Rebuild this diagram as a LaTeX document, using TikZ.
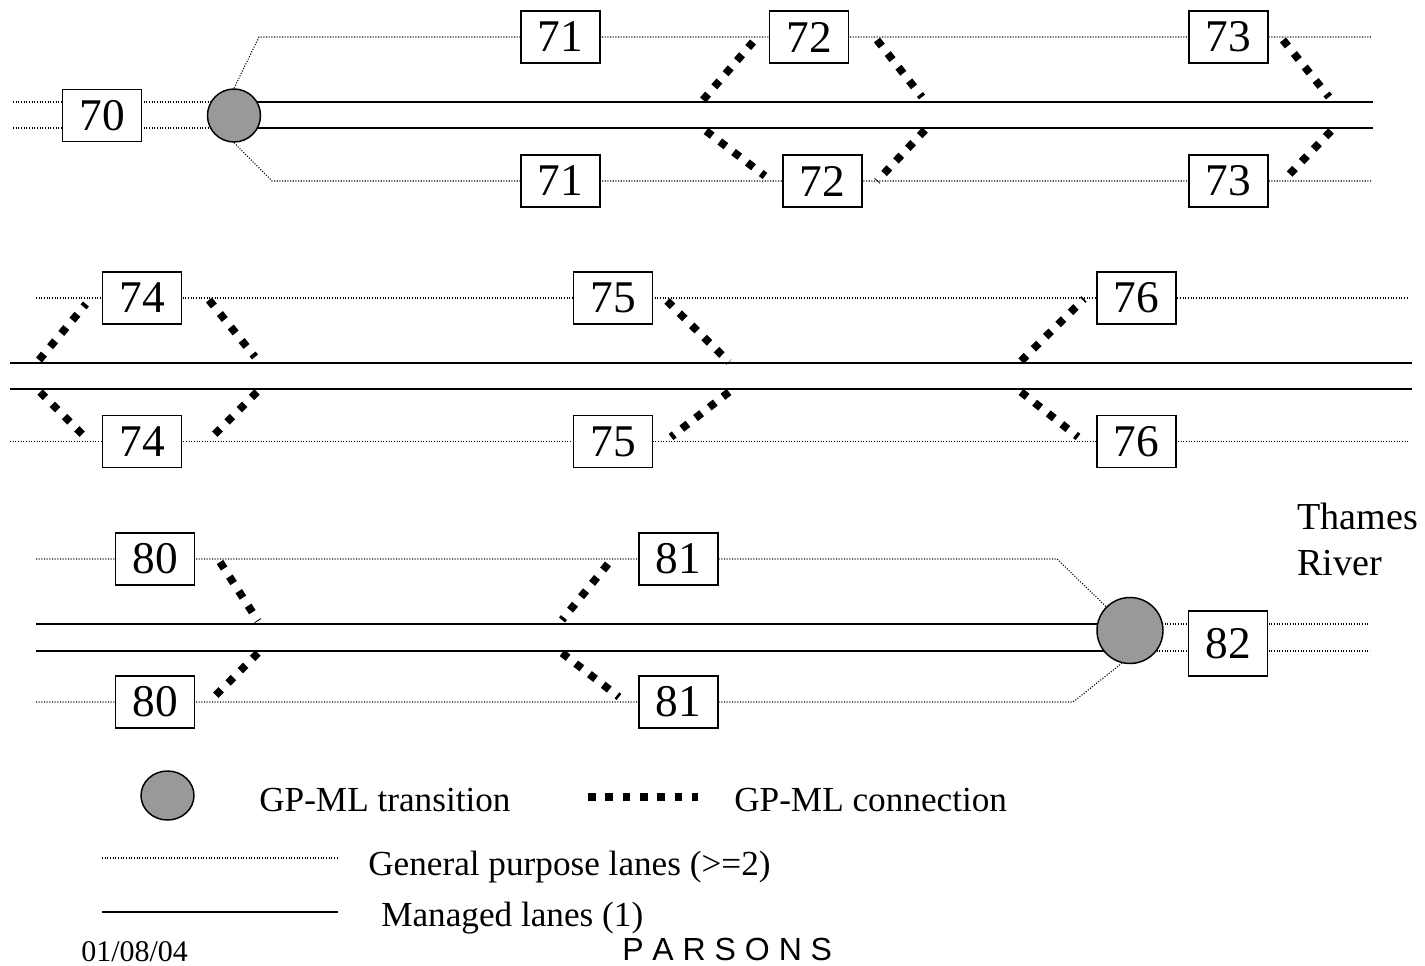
\documentclass[tikz,border=0pt]{standalone}
\usepackage{fontspec}
\setmainfont{Liberation Serif}
\newfontfamily\parsonsfont{Liberation Sans}
\usetikzlibrary{calc,shapes.geometric}
\definecolor{transgray}{HTML}{999999}
\pgfdeclarelayer{bg}
\pgfsetlayers{bg,main}
\begin{document}
\begin{tikzpicture}[x=0.75pt,y=-0.75pt,
  numbox/.style={draw, line width=1.1pt, fill=white, minimum width=59pt, minimum height=39pt, inner sep=0pt, font=\fontsize{34}{36}\selectfont},
  trans/.style={circle, draw, line width=1.1pt, fill=transgray, inner sep=0pt},
  gp/.style={line width=0.8pt, dash pattern=on 0.8pt off 1.2pt},
  ml/.style={line width=1.5pt},
  conn/.style={line width=5.8pt, dash pattern=on 5.8pt off 7.2pt},
  legtext/.style={anchor=base west, inner sep=0pt, font=\fontsize{26.4}{30}\selectfont}]
\useasboundingbox (0,0) rectangle (1425,966);

% ---------- Row 1 ----------
\node[numbox] (b70) at (102,115.5) {70};
\node[trans, minimum size=39.75pt] (c1) at (234,115.5) {};
\node[numbox] (b71t) at (560.5,37) {71};
\node[numbox] (b71b) at (560.5,181) {71};
\node[numbox] (b72t) at (809,37) {72};
\node[numbox] (b72b) at (822.5,181) {72};
\node[numbox] (b73t) at (1228.5,37) {73};
\node[numbox] (b73b) at (1228.5,181) {73};

\coordinate (r1lA) at (13,102);
\coordinate (r1lB) at (13,128);
\coordinate (r1mA) at (1373,102);
\coordinate (r1mB) at (1373,128);
\coordinate (r1tk) at (259,37);
\coordinate (r1bk) at (272,181);
\coordinate (r1tE) at (1371,37);
\coordinate (r1bE) at (1371,181);

\begin{pgfonlayer}{bg}
  \draw[gp] (r1lA) -- (c1.center |- r1lA);
  \draw[gp] (r1lB) -- (c1.center |- r1lB);
  \draw[ml] (c1.center |- r1mA) -- (r1mA);
  \draw[ml] (c1.center |- r1mB) -- (r1mB);
  \draw[gp] (c1.north) -- (r1tk) -- (r1tE);
  \draw[gp] (c1.south) -- (r1bk) -- (r1bE);
\end{pgfonlayer}

\coordinate (k72a1) at (703,100);  \coordinate (k72a2) at (753,42);
\coordinate (k72b1) at (877,40);   \coordinate (k72b2) at (922,97);
\coordinate (k72c1) at (706,131);  \coordinate (k72c2) at (765,176);
\coordinate (k72d1) at (925,130);  \coordinate (k72d2) at (877,181);
\coordinate (k73a1) at (1283,40);  \coordinate (k73a2) at (1329,97);
\coordinate (k73b1) at (1331,131); \coordinate (k73b2) at (1283,181);
\draw[conn] (k72a1) -- (k72a2);
\draw[conn] (k72b1) -- (k72b2);
\draw[conn] (k72c1) -- (k72c2);
\draw[conn] (k72d1) -- (k72d2);
\draw[conn] (k73a1) -- (k73a2);
\draw[conn] (k73b1) -- (k73b2);

% ---------- Row 2 ----------
\node[numbox] (b74t) at (142,298) {74};
\node[numbox] (b74b) at (142,441.5) {74};
\node[numbox] (b75t) at (613,298) {75};
\node[numbox] (b75b) at (613,441.5) {75};
\node[numbox] (b76t) at (1136.5,298) {76};
\node[numbox] (b76b) at (1136.5,441.5) {76};

\coordinate (r2tS) at (36,298);   \coordinate (r2tE) at (1409,298);
\coordinate (r2bS) at (10,441.5); \coordinate (r2bE) at (1409,441.5);
\coordinate (r2mAS) at (10,363); \coordinate (r2mAE) at (1412,363);
\coordinate (r2mBS) at (10,389); \coordinate (r2mBE) at (1412,389);
\begin{pgfonlayer}{bg}
  \draw[gp] (r2tS) -- (r2tE);
  \draw[gp] (r2bS) -- (r2bE);
  \draw[ml] (r2mAS) -- (r2mAE);
  \draw[ml] (r2mBS) -- (r2mBE);
\end{pgfonlayer}

\coordinate (k74a1) at (39,360);   \coordinate (k74a2) at (86,304);
\coordinate (k74b1) at (209,300);  \coordinate (k74b2) at (255,357);
\coordinate (k74c1) at (40,392);   \coordinate (k74c2) at (88,440);
\coordinate (k74d1) at (257,392);  \coordinate (k74d2) at (209,440);
\coordinate (k75a1) at (667,301);  \coordinate (k75a2) at (729,362);
\coordinate (k75b1) at (729,392);  \coordinate (k75b2) at (671,437);
\coordinate (k76a1) at (1021,361); \coordinate (k76a2) at (1084,299);
\coordinate (k76b1) at (1021,392); \coordinate (k76b2) at (1078,437);
\draw[conn] (k74a1) -- (k74a2);
\draw[conn] (k74b1) -- (k74b2);
\draw[conn] (k74c1) -- (k74c2);
\draw[conn] (k74d1) -- (k74d2);
\draw[conn] (k75a1) -- (k75a2);
\draw[conn] (k75b1) -- (k75b2);
\draw[conn] (k76a1) -- (k76a2);
\draw[conn] (k76b1) -- (k76b2);

% ---------- Row 3 ----------
\node[numbox] (b80t) at (155,559) {80};
\node[numbox] (b80b) at (155,702) {80};
\node[numbox] (b81t) at (678.5,559) {81};
\node[numbox] (b81b) at (678.5,702) {81};
\node[trans, minimum size=49.5pt] (c2) at (1130,630.5) {};
\node[numbox, minimum height=48.75pt] (b82) at (1228,643.5) {82};

\coordinate (r3tS) at (36,559);  \coordinate (r3tk) at (1057,559);
\coordinate (r3bS) at (36,702);  \coordinate (r3bk) at (1073,702);
\coordinate (r3mA) at (36,624);  \coordinate (r3mB) at (36,651);
\coordinate (r3rA) at (1370,624); \coordinate (r3rB) at (1370,651);
\begin{pgfonlayer}{bg}
  \draw[gp] (r3tS) -- (r3tk) -- (c2.north west);
  \draw[gp] (r3bS) -- (r3bk) -- (c2.-104);
  \draw[ml] (r3mA) -- (c2.center |- r3mA);
  \draw[ml] (r3mB) -- (c2.center |- r3mB);
  \draw[gp] (c2.center |- r3rA) -- (r3rA);
  \draw[gp] (c2.center |- r3rB) -- (r3rB);
\end{pgfonlayer}

\coordinate (k80a1) at (220,562);  \coordinate (k80a2) at (258,621);
\coordinate (k80b1) at (258,653);  \coordinate (k80b2) at (209,702);
\coordinate (k81a1) at (608,564);  \coordinate (k81a2) at (562,620);
\coordinate (k81b1) at (562,653);  \coordinate (k81b2) at (619,697);
\draw[conn] (k80a1) -- (k80a2);
\draw[conn] (k80b1) -- (k80b2);
\draw[conn] (k81a1) -- (k81a2);
\draw[conn] (k81b1) -- (k81b2);

\node[anchor=north west, inner sep=0pt, align=left, font=\fontsize{28.6}{34}\selectfont] (thames) at (1297,503) {Thames\\River};

% ---------- Legend ----------
\node[trans, ellipse, minimum width=39.75pt, minimum height=36.75pt] (legc) at (167.5,795.5) {};
\node[legtext] (legct) at (259,811) {GP-ML transition};
\coordinate (legk1) at (588,797); \coordinate (legk2) at (698,797);
\draw[conn] (legk1) -- (legk2);
\node[legtext] (legkt) at (734,811) {GP-ML connection};
\coordinate (leggp1) at (102,858); \coordinate (leggp2) at (337,858);
\draw[gp] (leggp1) -- (leggp2);
\node[legtext] (leggpt) at (368,875) {General purpose lanes (>=2)};
\coordinate (legml1) at (102,912); \coordinate (legml2) at (338,912);
\draw[ml] (legml1) -- (legml2);
\node[legtext] (legmlt) at (381,926) {Managed lanes (1)};

\node[anchor=base west, inner sep=0pt, font=\fontsize{22.5}{26}\selectfont] (date) at (81,961) {01/08/04};
\node[anchor=base west, inner sep=0pt, font=\parsonsfont\fontsize{24}{28}\selectfont] (parsons) at (622,960) {P A R S O N S};
\end{tikzpicture}
\end{document}
